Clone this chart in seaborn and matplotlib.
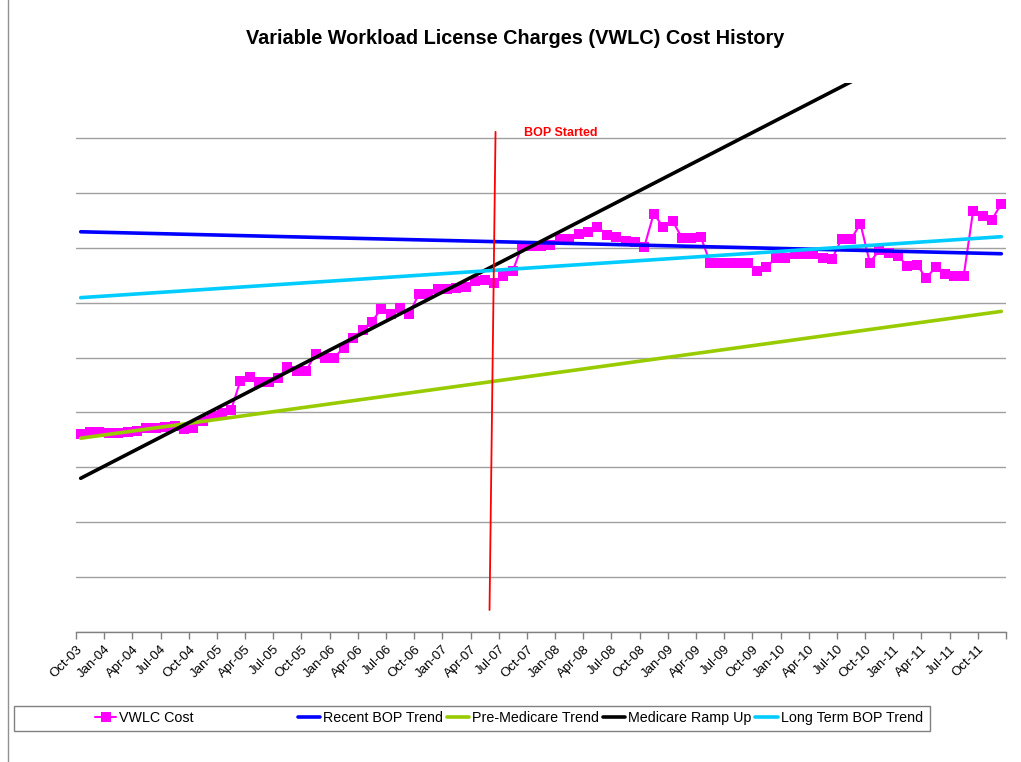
import numpy as np
import pandas as pd
import matplotlib
matplotlib.use("Agg")
import matplotlib.pyplot as plt
import seaborn as sns
from matplotlib.lines import Line2D
from matplotlib.patches import Rectangle

# ---- data (y axis has no labels -> gridline units) ----
vwlc_cost = [3.60, 3.65, 3.64, 3.62, 3.62, 3.65, 3.67, 3.71, 3.71, 3.73,
             3.75, 3.69, 3.71, 3.84, 3.93, 3.98, 4.04, 4.58, 4.65, 4.56,
             4.56, 4.62, 4.82, 4.76, 4.76, 5.07, 5.00, 5.00, 5.18, 5.35,
             5.51, 5.65, 5.89, 5.80, 5.91, 5.80, 6.16, 6.16, 6.25, 6.24,
             6.27, 6.29, 6.40, 6.42, 6.36, 6.49, 6.58, 7.04, 7.04, 7.04,
             7.05, 7.15, 7.16, 7.25, 7.29, 7.38, 7.24, 7.20, 7.13, 7.11,
             7.02, 7.62, 7.38, 7.49, 7.18, 7.18, 7.20, 6.73, 6.73, 6.73,
             6.73, 6.73, 6.58, 6.64, 6.82, 6.82, 6.89, 6.89, 6.89, 6.82,
             6.80, 7.16, 7.15, 7.44, 6.73, 6.95, 6.91, 6.85, 6.67, 6.69,
             6.45, 6.64, 6.53, 6.49, 6.49, 7.67, 7.58, 7.51, 7.80]

tick_labels = ["Oct-03",
               "Jan-04", "Apr-04", "Jul-04", "Oct-04",
               "Jan-05", "Apr-05", "Jul-05", "Oct-05",
               "Jan-06", "Apr-06", "Jul-06", "Oct-06",
               "Jan-07", "Apr-07", "Jul-07", "Oct-07",
               "Jan-08", "Apr-08", "Jul-08", "Oct-08",
               "Jan-09", "Apr-09", "Jul-09", "Oct-09",
               "Jan-10", "Apr-10", "Jul-10", "Oct-10",
               "Jan-11", "Apr-11", "Jul-11", "Oct-11"]

trend_x = [0.5, 98.5]
recent_bop_trend = [7.29, 6.89]
pre_medicare_trend = [3.53, 5.84]
medicare_ramp_up = [2.80, 11.43]
long_term_bop_trend = [6.09, 7.20]

bop_started_x = [44.66, 44.02]
bop_started_y = [9.11, 0.40]

# ---- style ----
sns.set_style("white")
plt.rcParams["font.family"] = ["Liberation Sans", "DejaVu Sans"]
plt.rcParams["text.color"] = "black"
plt.rcParams["xtick.color"] = "black"

W, H = 1021, 762
fig = plt.figure(figsize=(W / 100, H / 100), dpi=100)
ax = fig.add_axes([76 / W, 1 - 632 / H, 930 / W, 549 / H])

df = pd.DataFrame({"month": np.arange(len(vwlc_cost)) + 0.5, "cost": vwlc_cost})
sns.lineplot(data=df, x="month", y="cost", ax=ax, color="#FF00FF", marker="s",
             markersize=7, markeredgewidth=0, linewidth=1.5, zorder=3)

trends = [("Recent BOP Trend", recent_bop_trend, "#0000FF"),
          ("Pre-Medicare Trend", pre_medicare_trend, "#99CC00"),
          ("Medicare Ramp Up", medicare_ramp_up, "#000000"),
          ("Long Term BOP Trend", long_term_bop_trend, "#00CCFF")]
for i, (name, vals, col) in enumerate(trends):
    tdf = pd.DataFrame({"x": trend_x, "y": vals})
    sns.lineplot(data=tdf, x="x", y="y", ax=ax, color=col, linewidth=2.6,
                 zorder=4 + i)

ax.plot(bop_started_x, bop_started_y, color="#FF0000", linewidth=1.3, zorder=9)
ax.text(47.7, 9.09, "BOP Started", color="#FF0000", fontweight="bold",
        fontsize=9, va="center", ha="left")

ax.set_xlim(0, 99)
ax.set_ylim(0, 10)
ax.set_xticks(np.arange(0, 100, 3))
ax.set_xticklabels(tick_labels + [""], rotation=45, ha="right",
                   rotation_mode="anchor", fontsize=9.5)
ax.set_yticks(np.arange(0, 10))
ax.set_yticklabels([])
ax.set_xlabel("")
ax.set_ylabel("")
ax.grid(axis="y", color="#A0A0A0", linewidth=1)
ax.grid(axis="x", visible=False)
ax.tick_params(axis="x", direction="out", length=5, width=1, color="#808080",
               bottom=True, pad=3)
ax.tick_params(axis="y", length=0)
for s in ["top", "right", "left"]:
    ax.spines[s].set_visible(False)
ax.spines["bottom"].set_color("#808080")
ax.spines["bottom"].set_linewidth(1)

# title
fig.text(0.505, 1 - 39 / H, "Variable Workload License Charges (VWLC) Cost History",
         ha="center", va="center", fontsize=14.3, fontweight="bold")

# legend (frame + two groups of entries, placed like the reference)
fig.add_artist(Rectangle((14 / W, 1 - 731 / H), 916 / W, 25 / H,
                         transform=fig.transFigure, fill=False,
                         edgecolor="#808080", linewidth=1))
yc = 1 - 718 / H
h1 = [Line2D([], [], color="#FF00FF", marker="s", markersize=7,
             markeredgewidth=0, linewidth=1.5)]
fig.legend(h1, ["VWLC Cost"], loc="center left",
           bbox_to_anchor=(95 / W, yc), frameon=False, fontsize=10.3,
           handlelength=1.5, handletextpad=0.2, borderpad=0,
           borderaxespad=0)
h2 = [Line2D([], [], color=c, linewidth=2.6) for _, _, c in trends]
l2 = [n for n, _, _ in trends]
fig.legend(h2, l2, loc="center left", bbox_to_anchor=(298 / W, yc),
           ncol=4, frameon=False, fontsize=10.3, handlelength=1.55,
           handletextpad=0.2, columnspacing=0.28, borderpad=0,
           borderaxespad=0)

# chart-area border on the left
fig.add_artist(Line2D([8 / W, 8 / W], [0, 1], transform=fig.transFigure,
                      color="#909090", linewidth=1))

fig.savefig("out.png", dpi=100)
